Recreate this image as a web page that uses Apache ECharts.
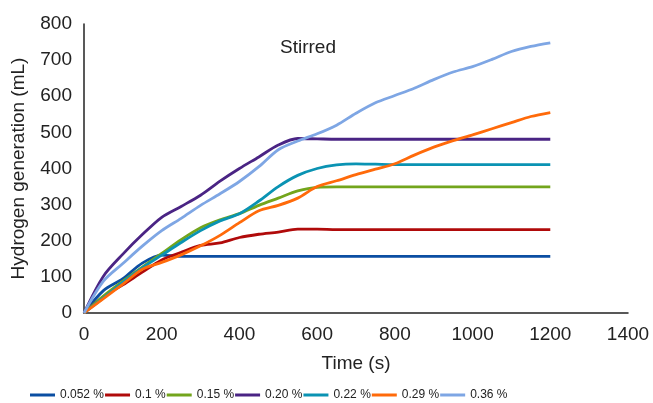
<!DOCTYPE html>
<html>
<head>
<meta charset="utf-8">
<script src="https://cdn.jsdelivr.net/npm/echarts@6/dist/echarts.min.js"></script>
<style>html,body{margin:0;padding:0;background:#fff}#c{width:653px;height:403px}</style>
</head>
<body>
<div id="c"></div>
<script>
const times = [0,50,100,150,200,250,300,350,400,450,500,550,600,650,700,750,800,850,900,950,1000,1050,1100,1150,1200];
const s0052 = [0,62,95,138,160,157,157,157,157,157,157,157,157,157,157,157,157,157,157,157,157,157,157,157,157];
const s01   = [0,45,78,113,147,168,187,194,209,218,224,232,232,231,231,231,231,231,231,231,231,231,231,231,231];
const s015  = [0,47,88,127,165,203,236,258,275,298,318,338,348,349,349,349,349,349,349,349,349,349,349,349,349];
const s020  = [0,102,163,217,265,295,326,365,400,432,465,483,482,481,481,481,481,481,481,481,481,481,481,481,481];
const s022  = [0,42,85,125,160,195,228,255,275,310,350,381,400,410,413,412,411,411,411,411,411,411,411,411,411];
const s029  = [0,40,80,121,140,161,186,215,250,283,298,318,350,366,383,398,413,437,459,477,493,510,527,544,555];
const s036  = [0,88,137,185,228,262,298,330,364,405,452,476,496,520,553,582,602,622,646,667,682,702,724,738,748];
const seriesNames = ['0.052 %','0.1 %','0.15 %','0.20 %','0.22 %','0.29 %','0.36 %'];
const seriesValues = [s0052,s01,s015,s020,s022,s029,s036];
const colors = ['#0B4EA2','#B00A0A','#73A51C','#4A2484','#0A93B3','#FF6A0A','#7EA6E4'];
const xTicks = {min:0,max:1400,interval:200};
const yTicks = {min:0,max:800,interval:100};

const chart = echarts.init(document.getElementById('c'));
const font = 'Liberation Sans, Arial, sans-serif';
chart.setOption({
  animation:false,
  title:{text:'Stirred',left:280,top:38,padding:0,textStyle:{fontFamily:font,fontSize:19,fontWeight:'normal',color:'#222'}},
  grid:{left:84,top:24,right:25,bottom:90},
  legend:{
    left:30,top:389,padding:0,itemWidth:25,itemHeight:3,itemGap:1,icon:'rect',
    textStyle:{fontFamily:font,fontSize:12,color:'#222'},
    data:seriesNames
  },
  xAxis:{
    type:'value',min:xTicks.min,max:xTicks.max,interval:xTicks.interval,
    name:'Time (s)',nameLocation:'middle',nameGap:41,
    nameTextStyle:{fontFamily:font,fontSize:19,color:'#222'},
    axisLine:{show:true,lineStyle:{color:'#222',width:1.5}},
    axisTick:{show:false},splitLine:{show:false},
    axisLabel:{fontFamily:font,fontSize:19,color:'#222',margin:12,formatter:v=>String(v)}
  },
  yAxis:{
    type:'value',min:yTicks.min,max:yTicks.max,interval:yTicks.interval,
    name:'Hydrogen generation (mL)',nameLocation:'middle',nameGap:56,
    nameTextStyle:{fontFamily:font,fontSize:19,color:'#222'},
    axisLine:{show:true,lineStyle:{color:'#222',width:1.5}},
    axisTick:{show:false},splitLine:{show:false},
    axisLabel:{fontFamily:font,fontSize:19,color:'#222',margin:12}
  },
  series: seriesNames.map((n,i)=>({
    name:n,type:'line',smooth:0.3,showSymbol:false,symbol:'none',
    color:colors[i],
    lineStyle:{width:2.8,color:colors[i]},
    data: times.map((t,k)=>[t,seriesValues[i][k]])
  }))
});
</script>
</body>
</html>
